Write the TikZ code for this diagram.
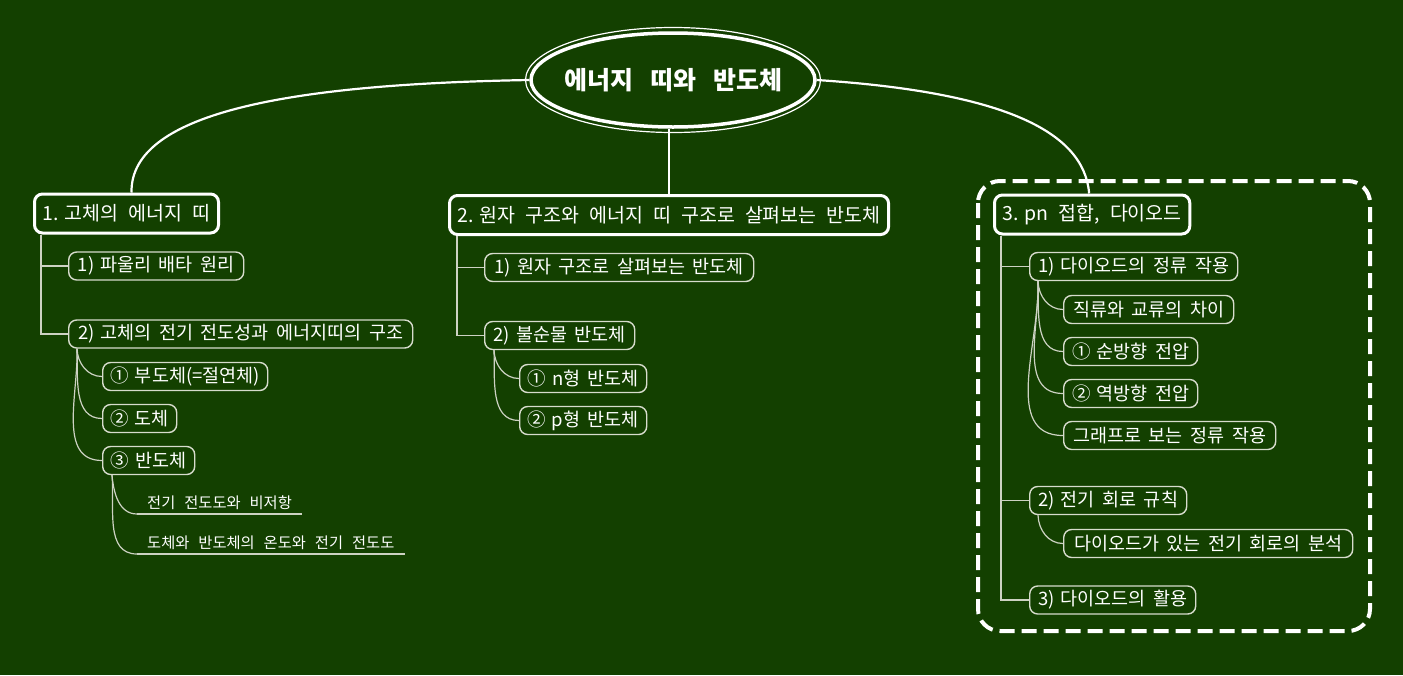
\documentclass[tikz,border=0pt]{standalone}
\usepackage{fontspec}
\setmainfont{Noto Sans CJK KR}
\usetikzlibrary{shapes.geometric}
\definecolor{bg}{RGB}{19,64,0}
\definecolor{lineC}{RGB}{205,210,195}
\definecolor{boxC}{RGB}{215,220,205}
\newcommand\numsp{\hspace{6pt}}
\begin{document}
\begin{tikzpicture}[x=1pt,y=-1pt,
  topbox/.style={draw=white, line width=3pt, rounded corners=8pt, text=white, anchor=west, minimum height=39pt, inner xsep=8pt, inner ysep=2pt, font=\fontsize{19.5}{21}\selectfont, execute at begin node={\spaceskip=10pt\relax}},
  subbox/.style={draw=boxC, line width=1.4pt, rounded corners=8pt, text=white, anchor=west, minimum height=28pt, inner xsep=7pt, inner ysep=1pt, font=\fontsize{18.5}{20}\selectfont, execute at begin node={\spaceskip=7.5pt\relax}},
  leaf/.style={text=white, anchor=south west, inner xsep=10pt, inner ysep=4pt, font=\fontsize{15.3}{17}\selectfont, execute at begin node={\spaceskip=9pt\relax}},
  conn/.style={draw=lineC, line width=1.2pt},
  rootconn/.style={draw=white, line width=2.2pt}]
\useasboundingbox (0,0) rectangle (1403,675);
\fill[bg] (0,0) rectangle (1403,675);

% root
\node[ellipse, draw=white, line width=3.5pt, minimum width=284pt, minimum height=94pt, inner sep=0pt] (root) at (673,80) {};
\node[text=white, inner sep=0pt, font=\bfseries\fontsize{25}{27}\selectfont, execute at begin node={\spaceskip=17pt\relax}] (roottext) at (root.center) {에너지 띠와 반도체};
\draw[white, line width=1.2pt] (root.center) ellipse [x radius=147.5, y radius=52.5];

% top-level
\node[topbox, minimum width=184pt] (n1) at (33,213.5) {1.\numsp 고체의 에너지 띠};
\node[topbox, minimum width=439pt] (n2) at (448,215) {2.\numsp 원자 구조와 에너지 띠 구조로 살펴보는 반도체};
\node[topbox, minimum width=186pt] (n3) at (993,214.5) {3.\numsp pn 접합, 다이오드};

\draw[rootconn] (root.west) .. controls (300,84) and (130,110) .. ([xshift=5pt]n1.north);
\draw[rootconn] (root.south -| n2.north) -- (n2.north);
\draw[rootconn] (root.east) .. controls (1000,92) and (1084,130) .. ([xshift=-3pt]n3.north);

% boundary around n3
\draw[white, line width=4pt, dash pattern=on 15pt off 7pt, rounded corners=22pt] (978,181) rectangle (1370,631);

% branch 1
\node[subbox, minimum width=175pt] (a1) at (68,266) {1)\numsp 파울리 배타 원리};
\node[subbox, minimum width=344pt] (a2) at (68,334) {2)\numsp 고체의 전기 전도성과 에너지띠의 구조};
\draw[conn] ([xshift=8pt]n1.south west) |- (a1.west);
\draw[conn] ([xshift=8pt]n1.south west) |- (a2.west);

\node[subbox, minimum width=165pt] (a21) at (102,376.5) {①\numsp 부도체(=절연체)};
\node[subbox, minimum width=74pt] (a22) at (102,418.5) {②\numsp 도체};
\node[subbox, minimum width=92pt] (a23) at (102,460.5) {③\numsp 반도체};
\foreach \t in {a21,a22,a23}
  \draw[conn] ([xshift=9pt]a2.south west) to[out=-88,in=180] (\t.west);

\node[leaf] (d1) at (137,514) {전기 전도도와 비저항};
\node[leaf] (d2) at (137,554) {도체와 반도체의 온도와 전기 전도도};
\draw[conn] (d1.south west) -- (d1.south east);
\draw[conn] (d2.south west) -- (d2.south east);
\draw[conn] ([xshift=10pt]a23.south west) to[out=-85,in=180] (d1.south west);
\draw[conn] ([xshift=10pt]a23.south west) to[out=-85,in=180] (d2.south west);

% branch 2
\node[subbox, minimum width=269pt] (b1) at (484,267.5) {1)\numsp 원자 구조로 살펴보는 반도체};
\node[subbox, minimum width=150pt] (b2) at (484,335.5) {2)\numsp 불순물 반도체};
\draw[conn] ([xshift=9pt]n2.south west) |- (b1.west);
\draw[conn] ([xshift=9pt]n2.south west) |- (b2.west);
\node[subbox, minimum width=127pt] (b21) at (519,378.5) {①\numsp n형 반도체};
\node[subbox, minimum width=127pt] (b22) at (519,420.5) {②\numsp p형 반도체};
\foreach \t in {b21,b22}
  \draw[conn] ([xshift=10pt]b2.south west) to[out=-88,in=180] (\t.west);

% branch 3
\node[subbox, minimum width=208pt] (c1) at (1029,266.5) {1)\numsp 다이오드의 정류 작용};
\node[subbox, minimum width=157pt] (c2) at (1029,500.5) {2)\numsp 전기 회로 규칙};
\node[subbox, minimum width=166pt] (c3) at (1029,600) {3)\numsp 다이오드의 활용};
\foreach \t in {c1,c2,c3}
  \draw[conn] ([xshift=8pt]n3.south west) |- (\t.west);

\node[subbox, minimum width=170pt] (c11) at (1063,309.5) {직류와 교류의 차이};
\node[subbox, minimum width=134pt] (c12) at (1063,351.5) {①\numsp 순방향 전압};
\node[subbox, minimum width=134pt] (c13) at (1063,393.5) {②\numsp 역방향 전압};
\node[subbox, minimum width=212pt] (c14) at (1063,435.5) {그래프로 보는 정류 작용};
\foreach \t in {c11,c12,c13,c14}
  \draw[conn] ([xshift=9pt]c1.south west) to[out=-88,in=180] (\t.west);

\node[subbox, minimum width=289pt] (c21) at (1063,543.5) {다이오드가 있는 전기 회로의 분석};
\draw[conn] ([xshift=9pt]c2.south west) to[out=-88,in=180] (c21.west);
\end{tikzpicture}
\end{document}
